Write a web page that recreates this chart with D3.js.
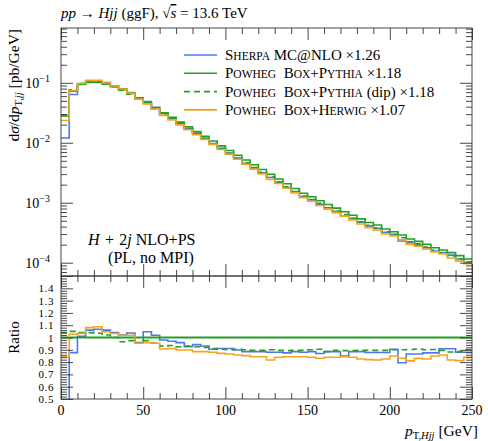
<!DOCTYPE html>
<html>
<head>
<meta charset="utf-8">
<script src="https://cdn.jsdelivr.net/npm/d3@7"></script>
<style>
body { margin: 0; background: #fff; }
svg { font-family: "Liberation Serif", "DejaVu Serif", serif; }
</style>
</head>
<body>
<div id="chart"></div>
<script>
// 5 GeV bins from 0 to 250 GeV (lower edges)
var binLow = d3.range(0, 250, 5);
var xMax = 250;

// Powheg Box+Pythia x1.18 (reference for the ratio), pb/GeV
var pythia = [0.0279, 0.0727, 0.094, 0.1015, 0.1015, 0.095, 0.0858, 0.0776, 0.0665, 0.0562,
  0.0464, 0.0383, 0.0316, 0.0265, 0.0221, 0.0184, 0.0154, 0.0128, 0.0107, 0.00889,
  0.00741, 0.00618, 0.00515, 0.00430, 0.00358, 0.00299, 0.00249, 0.00207, 0.00173, 0.00144,
  0.00126, 0.00108, 0.000933, 0.000813, 0.000708, 0.000617, 0.000537, 0.000468, 0.000425, 0.000365,
  0.000329, 0.000290, 0.000248, 0.000227, 0.000203, 0.000178, 0.000163, 0.000147, 0.000131, 0.000115];

// ratios to Powheg Box+Pythia
var ratioSherpa = [0.43, 0.877, 1.01, 1.06, 1.067, 1.06, 1.04, 1.02, 1.037, 0.958,
  1.047, 1.018, 0.98, 0.969, 0.958, 0.925, 0.942, 0.931, 0.904, 0.91,
  0.91, 0.898, 0.885, 0.885, 0.885, 0.88, 0.88, 0.875, 0.885, 0.88,
  0.885, 0.87, 0.885, 0.885, 0.85, 0.885, 0.885, 0.878, 0.878, 0.878,
  0.904, 0.795, 0.866, 0.866, 0.875, 0.875, 0.909, 0.909, 0.88, 0.88];
var ratioDip = [1.04, 1.05, 1.04, 1.04, 1.035, 1.02, 1.0, 0.966, 0.975, 0.953,
  0.975, 0.955, 0.93, 0.935, 0.925, 0.93, 0.925, 0.92, 0.91, 0.905,
  0.9, 0.905, 0.9, 0.895, 0.895, 0.9, 0.895, 0.893, 0.895, 0.895,
  0.9, 0.905, 0.885, 0.895, 0.893, 0.893, 0.895, 0.895, 0.895, 0.895,
  0.9, 0.9, 0.902, 0.906, 0.9, 0.902, 0.895, 0.882, 0.885, 0.9];
var ratioHerwig = [0.844, 1.026, 1.033, 1.08, 1.088, 1.047, 1.033, 1.018, 1.018, 0.953,
  0.958, 0.953, 0.906, 0.91, 0.898, 0.898, 0.885, 0.885, 0.88, 0.871,
  0.866, 0.858, 0.853, 0.844, 0.844, 0.817, 0.84, 0.844, 0.844, 0.844,
  0.84, 0.831, 0.84, 0.84, 0.844, 0.84, 0.825, 0.82, 0.817, 0.825,
  0.85, 0.831, 0.81, 0.83, 0.825, 0.85, 0.858, 0.817, 0.812, 0.84];

var logMajor = [1e-4, 1e-3, 1e-2, 1e-1];
var ratioMajor = [0.5, 0.6, 0.7, 0.8, 0.9, 1.0, 1.1, 1.2, 1.3, 1.4];
var xMajor = [0, 50, 100, 150, 200, 250];

var series = [
  {name: "sherpa", color: "#4a78ee", dash: null, ratio: ratioSherpa},
  {name: "pythia", color: "#23a023", dash: null, ratio: pythia.map(function() { return 1; })},
  {name: "dip", color: "#23a023", dash: "6,4", ratio: ratioDip},
  {name: "herwig", color: "#f7a31c", dash: null, ratio: ratioHerwig}
];

var W = 488, H = 441;
var left = 61, right = 472, top1 = 28, bot1 = 276, bot2 = 399;
var axisCol = "#333";

var svg = d3.select("#chart").append("svg").attr("width", W).attr("height", H);

var x = d3.scaleLinear().domain([0, xMax]).range([left, right]);
var y = d3.scaleLog().domain([6e-5, 0.82]).range([bot1, top1]);
var yr = d3.scaleLinear().domain([0.5, 1.5]).range([bot2, bot1]);

var defs = svg.append("defs");
defs.append("clipPath").attr("id", "clipTop").append("rect")
  .attr("x", left).attr("y", top1).attr("width", right - left).attr("height", bot1 - top1);
defs.append("clipPath").attr("id", "clipRatio").append("rect")
  .attr("x", left).attr("y", bot1).attr("width", right - left).attr("height", bot2 - bot1);

function stepPoints(vals) {
  var pts = binLow.map(function(b, i) { return {x: b, v: vals[i]}; });
  pts.push({x: xMax, v: vals[vals.length - 1]});
  return pts;
}

var lineTop = d3.line().x(function(d) { return x(d.x); }).y(function(d) { return y(d.v); }).curve(d3.curveStepAfter);
var lineRatio = d3.line().x(function(d) { return x(d.x); }).y(function(d) { return yr(d.v); }).curve(d3.curveStepAfter);

// curves, top panel
var gTop = svg.append("g").attr("clip-path", "url(#clipTop)");
series.forEach(function(s) {
  var vals = pythia.map(function(p, i) { return p * s.ratio[i]; });
  gTop.append("path")
    .attr("d", lineTop(stepPoints(vals)))
    .attr("fill", "none")
    .attr("stroke", s.color)
    .attr("stroke-width", 1.6)
    .attr("stroke-dasharray", s.dash);
});

// curves, ratio panel
var gRat = svg.append("g").attr("clip-path", "url(#clipRatio)");
series.forEach(function(s) {
  gRat.append("path")
    .attr("d", lineRatio(stepPoints(s.ratio)))
    .attr("fill", "none")
    .attr("stroke", s.color)
    .attr("stroke-width", s.name == "pythia" ? 2 : 1.6)
    .attr("stroke-dasharray", s.dash);
});

// frames
[[top1, bot1], [bot1, bot2]].forEach(function(p) {
  svg.append("rect").attr("x", left).attr("y", p[0]).attr("width", right - left).attr("height", p[1] - p[0])
    .attr("fill", "none").attr("stroke", axisCol).attr("stroke-width", 0.9);
});

// ticks (all drawn inwards)
function ticks(axisFn, scale, vals, size, tr) {
  var g = svg.append("g").attr("transform", tr)
    .call(axisFn(scale).tickValues(vals).tickSize(-size).tickFormat(""));
  g.select(".domain").remove();
  g.selectAll("line").attr("stroke", axisCol).attr("stroke-width", 0.9);
}
var xMinor = d3.range(0, 251, 10).filter(function(v) { return v % 50 != 0; });
[top1, bot1].forEach(function(yy) {
  ticks(d3.axisTop, x, xMajor, 12, "translate(0," + yy + ")");
  ticks(d3.axisTop, x, xMinor, 6, "translate(0," + yy + ")");
});
[bot1, bot2].forEach(function(yy) {
  ticks(d3.axisBottom, x, xMajor, 12, "translate(0," + yy + ")");
  ticks(d3.axisBottom, x, xMinor, 6, "translate(0," + yy + ")");
});

var logMinor = [];
[1e-5, 1e-4, 1e-3, 1e-2, 1e-1].forEach(function(d) {
  for (var k = 2; k <= 9; k++) {
    var v = d * k;
    if (v >= y.domain()[0] && v <= y.domain()[1]) logMinor.push(v);
  }
});
ticks(d3.axisLeft, y, logMajor, 12, "translate(" + left + ",0)");
ticks(d3.axisLeft, y, logMinor, 6, "translate(" + left + ",0)");
ticks(d3.axisRight, y, logMajor, 12, "translate(" + right + ",0)");
ticks(d3.axisRight, y, logMinor, 6, "translate(" + right + ",0)");

var ratioMinor = d3.range(50, 151, 2).map(function(v) { return v / 100; })
  .filter(function(v) { return Math.round(v * 100) % 10 != 0; });
var ratioMajorAll = ratioMajor.concat([1.5]);
ticks(d3.axisLeft, yr, ratioMajorAll, 12, "translate(" + left + ",0)");
ticks(d3.axisLeft, yr, ratioMinor, 6, "translate(" + left + ",0)");
ticks(d3.axisRight, yr, ratioMajorAll, 12, "translate(" + right + ",0)");
ticks(d3.axisRight, yr, ratioMinor, 6, "translate(" + right + ",0)");

// tick labels
svg.append("g").selectAll("text").data(xMajor).enter().append("text")
  .attr("x", function(d) { return x(d); })
  .attr("y", bot2 + 16)
  .attr("text-anchor", "middle")
  .attr("font-size", 14)
  .text(function(d) { return d; });

svg.append("g").selectAll("text").data(ratioMajor).enter().append("text")
  .attr("x", left - 7)
  .attr("y", function(d) { return yr(d) + 4; })
  .attr("text-anchor", "end")
  .attr("font-size", 11)
  .attr("letter-spacing", 0.6)
  .text(function(d) { return d == 1 ? "1" : d.toFixed(1); });

var logLab = svg.append("g").selectAll("text").data(logMajor).enter().append("text")
  .attr("x", left - 11)
  .attr("y", function(d) { return y(d) + 5; })
  .attr("text-anchor", "end")
  .attr("font-size", 14);
logLab.append("tspan").text("10");
logLab.append("tspan").attr("font-size", 10).attr("dy", -6)
  .text(function(d) { return "\u2212" + Math.round(-Math.log10(d)); });

// axis titles
var yt = svg.append("text").attr("transform", "translate(19," + (top1 + 1) + ") rotate(-90)")
  .attr("text-anchor", "end").attr("font-size", 15.5);
yt.append("tspan").text("d");
yt.append("tspan").attr("font-style", "italic").text("\u03c3");
yt.append("tspan").text("/d");
yt.append("tspan").attr("font-style", "italic").text("p");
yt.append("tspan").attr("font-size", 10.5).attr("dy", 3).text("T,");
yt.append("tspan").attr("font-size", 10.5).attr("font-style", "italic").text("jj");
yt.append("tspan").attr("dy", -3).text(" [pb/GeV]");

svg.append("text").attr("transform", "translate(19," + yr(1) + ") rotate(-90)")
  .attr("text-anchor", "middle").attr("font-size", 15).text("Ratio");

var xt = svg.append("text").attr("x", 478).attr("y", 436).attr("text-anchor", "end").attr("font-size", 15.5);
xt.append("tspan").attr("font-style", "italic").text("p");
xt.append("tspan").attr("font-size", 10.5).attr("dy", 3).text("T,");
xt.append("tspan").attr("font-size", 10.5).attr("font-style", "italic").text("Hjj");
xt.append("tspan").attr("dy", -3).text(" [GeV]");

// title
var tt = svg.append("text").attr("x", left).attr("y", 18).attr("font-size", 15);
tt.append("tspan").attr("font-style", "italic").text("pp");
tt.append("tspan").text(" \u2192 ");
tt.append("tspan").attr("font-style", "italic").text("Hjj");
tt.append("tspan").text(" (ggF), \u221a");
tt.append("tspan").attr("font-style", "italic").style("text-decoration", "overline").text("s");
tt.append("tspan").text(" = 13.6 TeV");

// annotation
var a1 = svg.append("text").attr("x", 88).attr("y", 245).attr("font-size", 16);
a1.append("tspan").attr("font-style", "italic").text("H");
a1.append("tspan").text("\u2004+\u20042");
a1.append("tspan").attr("font-style", "italic").text("j");
a1.append("tspan").text(" NLO+PS");
svg.append("text").attr("x", 151).attr("y", 263).attr("text-anchor", "middle").attr("font-size", 16)
  .text("(PL, no MPI)");

// legend; small caps done by hand: first letter full size, rest upper case smaller
function smallCaps(t, str, big, small) {
  str.split(" ").forEach(function(word, wi) {
    if (wi > 0) t.append("tspan").attr("font-size", big).text("\u2002");
    word.split("+").forEach(function(w, k) {
      if (k > 0) t.append("tspan").attr("font-size", big).text("+");
      t.append("tspan").attr("font-size", big).text(w.charAt(0));
      t.append("tspan").attr("font-size", small).text(w.slice(1).toUpperCase());
    });
  });
}
var legendRows = [
  {s: series[0], sc: "Sherpa", rest: " MC@NLO \u00d71.26"},
  {s: series[1], sc: "Powheg Box+Pythia", rest: " \u00d71.18"},
  {s: series[2], sc: "Powheg Box+Pythia", rest: " (dip) \u00d71.18"},
  {s: series[3], sc: "Powheg Box+Herwig", rest: " \u00d71.07"}
];
var leg = svg.append("g").selectAll("g").data(legendRows).enter().append("g")
  .attr("transform", function(d, i) { return "translate(0," + (55 + i * 18.3) + ")"; });
leg.append("line")
  .attr("x1", 184).attr("x2", 217)
  .attr("stroke", function(d) { return d.s.color; })
  .attr("stroke-width", 1.6)
  .attr("stroke-dasharray", function(d) { return d.s.dash; });
leg.append("text").attr("x", 225).attr("y", 5).attr("font-size", 15)
  .each(function(d) {
    var t = d3.select(this);
    smallCaps(t, d.sc, 15, 11.5);
    t.append("tspan").attr("font-size", 15).text(d.rest);
  });
</script>
</body>
</html>
